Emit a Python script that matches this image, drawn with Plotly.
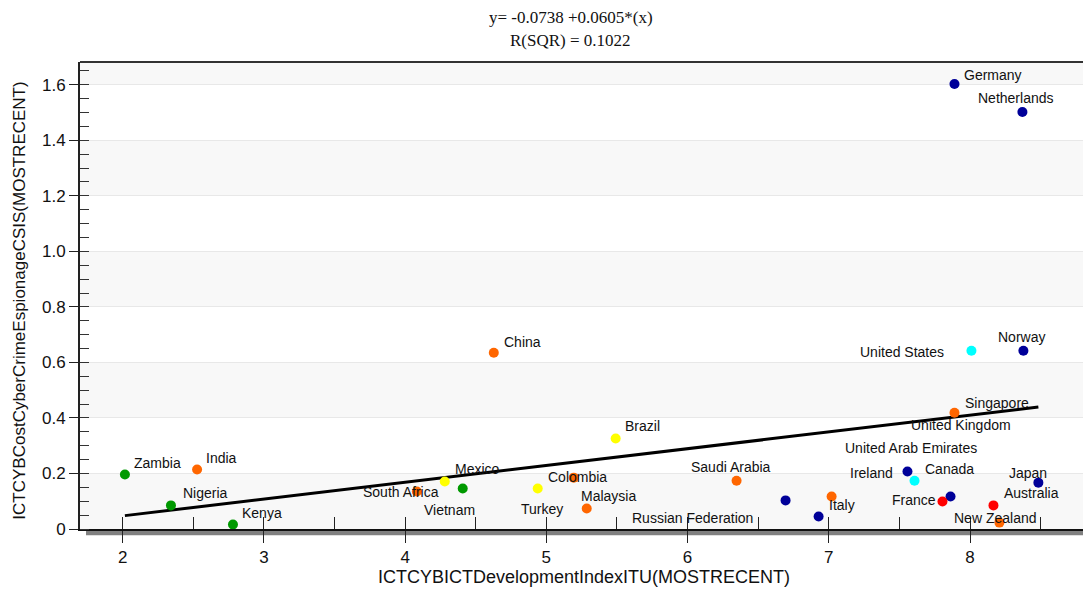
import plotly.graph_objects as go

# ---------------- data ----------------
COUNTRIES = ["Zambia", "India", "Nigeria", "Kenya", "South Africa", "Mexico", "Vietnam",
             "Turkey", "Colombia", "Malaysia", "China", "Brazil", "Saudi Arabia",
             "Russian Federation", "Italy", "United Arab Emirates", "Ireland", "Canada",
             "France", "New Zealand", "Australia", "Japan", "United Kingdom", "Singapore",
             "United States", "Norway", "Germany", "Netherlands"]
IDI = [2.016, 2.527, 2.342, 2.781, 4.083, 4.281, 4.408,
       4.939, 5.194, 5.286, 4.628, 5.491, 6.347,
       6.694, 6.928, 7.020, 7.557, 7.607,
       7.862, 7.805, 8.166, 8.208, 8.484, 7.890,
       8.010, 8.378, 7.890, 8.371]
CYBER_COST = [0.196, 0.214, 0.085, 0.016, 0.135, 0.171, 0.146,
              0.146, 0.185, 0.074, 0.635, 0.326, 0.174,
              0.103, 0.045, 0.117, 0.207, 0.174,
              0.117, 0.099, 0.085, 0.023, 0.167, 0.419,
              0.642, 0.642, 1.603, 1.502]
GROUP = ["green", "orange", "green", "green", "orange", "yellow", "green",
         "yellow", "orange", "orange", "orange", "yellow", "orange",
         "navy", "navy", "orange", "navy", "cyan",
         "navy", "red", "red", "orange", "navy", "orange",
         "cyan", "navy", "navy", "navy"]

INTERCEPT = -0.0738
SLOPE = 0.0605
R_SQR = 0.1022

X_TICKS = [2, 3, 4, 5, 6, 7, 8]
Y_TICKS = [0, 0.2, 0.4, 0.6, 0.8, 1.0, 1.2, 1.4, 1.6]
Y_TICK_TEXT = ["0", "0.2", "0.4", "0.6", "0.8", "1.0", "1.2", "1.4", "1.6"]

X_TITLE = "ICTCYBICTDevelopmentIndexITU(MOSTRECENT)"
Y_TITLE = "ICTCYBCostCyberCrimeEspionageCSIS(MOSTRECENT)"

# ---------------- styles ----------------
COLOR_MAP = {"navy": "#000099", "cyan": "#00FFFF", "orange": "#FF6600",
             "red": "#FF0000", "yellow": "#FFFF00", "green": "#009900"}

# label offsets from the marker in pixels (dx right, dy down)
LABEL_OFFSETS = {
    "Zambia": (33, -12), "India": (24, -12), "Nigeria": (35, -12), "Kenya": (29, -12),
    "South Africa": (-16, 0), "Mexico": (33, -13), "Vietnam": (-13, 22), "Turkey": (4, 21),
    "Colombia": (4, -1), "Malaysia": (22, -12), "China": (29, -11), "Brazil": (27, -12),
    "Saudi Arabia": (-6, -14), "Russian Federation": (-93, 18), "Italy": (23, -12),
    "United Arab Emirates": (79, -49), "Ireland": (-36, 1), "Canada": (35, -12),
    "France": (-37, 3), "New Zealand": (53, 16), "Australia": (38, -12), "Japan": (29, -50),
    "United Kingdom": (-77, -58), "Singapore": (43, -10), "United States": (-69, 1),
    "Norway": (-2, -14), "Germany": (39, -9), "Netherlands": (-6, -14),
}

X_RANGE = [1.698, 8.80]
Y_RANGE = [0, 1.682]
FONT = "Liberation Sans, Arial, sans-serif"
SERIF = "Liberation Serif, Times New Roman, serif"

fig = go.Figure()

# regression line across the data range
x_lo, x_hi = min(IDI), max(IDI)
fig.add_trace(go.Scatter(
    x=[x_lo, x_hi], y=[INTERCEPT + SLOPE * x_lo, INTERCEPT + SLOPE * x_hi],
    mode="lines", line=dict(color="black", width=3), hoverinfo="skip", showlegend=False))

# points
fig.add_trace(go.Scatter(
    x=IDI, y=CYBER_COST, mode="markers", text=COUNTRIES,
    marker=dict(size=10, color=[COLOR_MAP[g] for g in GROUP], line=dict(width=0)),
    showlegend=False))

# dummy trace for the inside-tick overlay axis
fig.add_trace(go.Scatter(x=[], y=[], xaxis="x2", showlegend=False, hoverinfo="skip"))

annotations = []
for name, xv, yv in zip(COUNTRIES, IDI, CYBER_COST):
    dx, dy = LABEL_OFFSETS[name]
    annotations.append(dict(x=xv, y=yv, xref="x", yref="y", text=name, showarrow=False,
                            xanchor="center", yanchor="middle",
                            xshift=dx, yshift=-dy,
                            font=dict(family=FONT, size=14, color="#111111")))

# regression equation text
annotations.append(dict(x=0.4895, y=1.0963, xref="paper", yref="paper", showarrow=False,
                        xanchor="center", yanchor="middle",
                        text=f"y= {INTERCEPT} +{SLOPE}*(x)",
                        font=dict(family=SERIF, size=17, color="#111111")))
annotations.append(dict(x=0.4895, y=1.045, xref="paper", yref="paper", showarrow=False,
                        xanchor="center", yanchor="middle",
                        text=f"R(SQR) = {R_SQR}",
                        font=dict(family=SERIF, size=17, color="#111111")))
# axis titles
annotations.append(dict(x=0.5025, y=-0.1037, xref="paper", yref="paper", showarrow=False,
                        xanchor="center", yanchor="middle",
                        text=X_TITLE, font=dict(family=FONT, size=18, color="#111111")))
annotations.append(dict(x=-0.0598, y=0.489, xref="paper", yref="paper", showarrow=False,
                        xanchor="center", yanchor="middle",
                        text=Y_TITLE, textangle=-90, font=dict(family=FONT, size=17, color="#111111")))

# alternating background bands
shapes = []
band_edges = Y_TICKS + [Y_RANGE[1]]
for i in range(0, len(band_edges) - 1, 2):
    shapes.append(dict(type="rect", xref="paper", yref="y", x0=0, x1=1,
                       y0=band_edges[i], y1=band_edges[i + 1],
                       fillcolor="#F8F8F8", line=dict(width=0), layer="below"))
# top frame line
shapes.append(dict(type="line", xref="paper", yref="paper", x0=0, x1=1, y0=1, y1=1,
                   line=dict(color="#333333", width=2)))
# shadow bar under the x axis
shapes.append(dict(type="rect", xref="paper", yref="paper", x0=0.006, x1=1,
                   y0=-0.0135, y1=-0.001, fillcolor="#808080", line=dict(width=0), layer="below"))

fig.update_layout(
    width=1083, height=592,
    margin=dict(l=80, r=0, t=62, b=62.5, autoexpand=False),
    paper_bgcolor="white", plot_bgcolor="white",
    showlegend=False,
    annotations=annotations,
    shapes=shapes,
    xaxis=dict(range=X_RANGE, tickvals=X_TICKS, ticks="outside", ticklen=12, tickwidth=1.3,
               tickcolor="#222222", showgrid=False, zeroline=False,
               showline=True, linecolor="#111111", linewidth=1.5,
               tickfont=dict(family=FONT, size=17, color="#111111")),
    xaxis2=dict(range=X_RANGE, overlaying="x", side="bottom", dtick=0.5, tick0=2,
                ticks="inside", ticklen=12, tickwidth=1.3, tickcolor="#222222",
                showticklabels=False, showgrid=False, zeroline=False, showline=False),
    yaxis=dict(range=Y_RANGE, tickvals=Y_TICKS, ticktext=Y_TICK_TEXT, ticks="outside",
               ticklen=9, tickwidth=1.3, tickcolor="#222222",
               showgrid=True, gridcolor="#E8E8E8", gridwidth=1, zeroline=False,
               showline=True, linecolor="#222222", linewidth=2,
               tickfont=dict(family=FONT, size=17, color="#111111"),
               minor=dict(ticks="inside", ticklen=9, tickwidth=1.2, tickcolor="#333333",
                          dtick=0.05, tick0=0, showgrid=False)),
)

fig.write_html("out.html", config={"displayModeBar": False},
               post_script="document.body.style.margin='0px';document.body.style.overflow='hidden';")
